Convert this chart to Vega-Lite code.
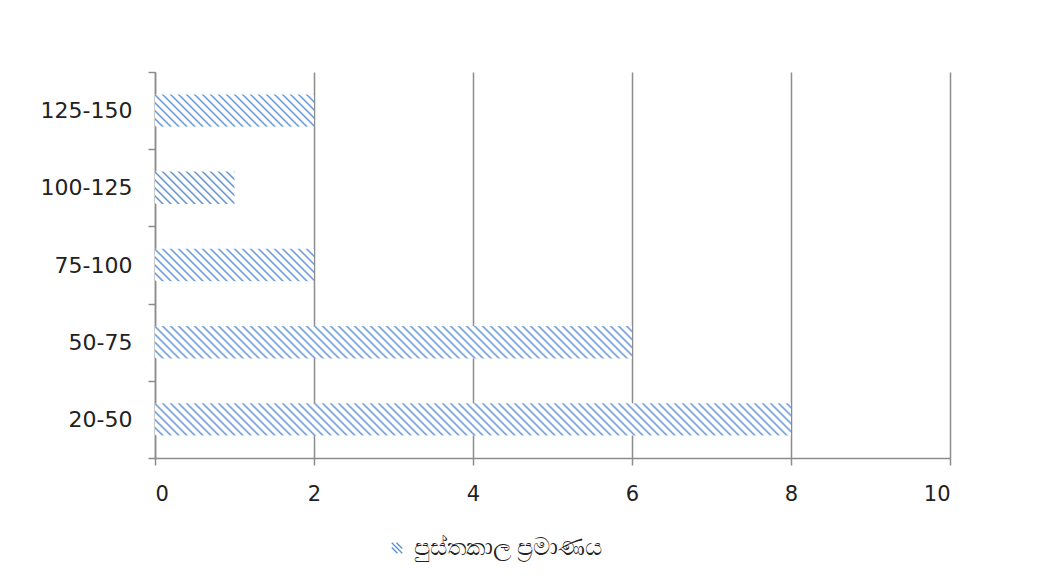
{
  "$schema": "https://vega.github.io/schema/vega-lite/v6.json",
  "width": 795,
  "height": 386,
  "autosize": {"type": "none"},
  "padding": {"left": 155, "top": 72, "right": 91, "bottom": 123},
  "background": "white",
  "config": {"view": {"stroke": null}, "font": "DejaVu Sans"},
  "params": [
    {"name": "stp", "value": [
      {"offset":0,"color":"#5b8fd6"},{"offset":0.0025,"color":"#fff"},
      {"offset":0.0075,"color":"#fff"},{"offset":0.01,"color":"#5b8fd6"},{"offset":0.0125,"color":"#fff"},
      {"offset":0.0175,"color":"#fff"},{"offset":0.02,"color":"#5b8fd6"},{"offset":0.0225,"color":"#fff"},
      {"offset":0.0275,"color":"#fff"},{"offset":0.03,"color":"#5b8fd6"},{"offset":0.0325,"color":"#fff"},
      {"offset":0.0375,"color":"#fff"},{"offset":0.04,"color":"#5b8fd6"},{"offset":0.0425,"color":"#fff"},
      {"offset":0.0475,"color":"#fff"},{"offset":0.05,"color":"#5b8fd6"},{"offset":0.0525,"color":"#fff"},
      {"offset":0.0575,"color":"#fff"},{"offset":0.06,"color":"#5b8fd6"},{"offset":0.0625,"color":"#fff"},
      {"offset":0.0675,"color":"#fff"},{"offset":0.07,"color":"#5b8fd6"},{"offset":0.0725,"color":"#fff"},
      {"offset":0.0775,"color":"#fff"},{"offset":0.08,"color":"#5b8fd6"},{"offset":0.0825,"color":"#fff"},
      {"offset":0.0875,"color":"#fff"},{"offset":0.09,"color":"#5b8fd6"},{"offset":0.0925,"color":"#fff"},
      {"offset":0.0975,"color":"#fff"},{"offset":0.1,"color":"#5b8fd6"},{"offset":0.1025,"color":"#fff"},
      {"offset":0.1075,"color":"#fff"},{"offset":0.11,"color":"#5b8fd6"},{"offset":0.1125,"color":"#fff"},
      {"offset":0.1175,"color":"#fff"},{"offset":0.12,"color":"#5b8fd6"},{"offset":0.1225,"color":"#fff"},
      {"offset":0.1275,"color":"#fff"},{"offset":0.13,"color":"#5b8fd6"},{"offset":0.1325,"color":"#fff"},
      {"offset":0.1375,"color":"#fff"},{"offset":0.14,"color":"#5b8fd6"},{"offset":0.1425,"color":"#fff"},
      {"offset":0.1475,"color":"#fff"},{"offset":0.15,"color":"#5b8fd6"},{"offset":0.1525,"color":"#fff"},
      {"offset":0.1575,"color":"#fff"},{"offset":0.16,"color":"#5b8fd6"},{"offset":0.1625,"color":"#fff"},
      {"offset":0.1675,"color":"#fff"},{"offset":0.17,"color":"#5b8fd6"},{"offset":0.1725,"color":"#fff"},
      {"offset":0.1775,"color":"#fff"},{"offset":0.18,"color":"#5b8fd6"},{"offset":0.1825,"color":"#fff"},
      {"offset":0.1875,"color":"#fff"},{"offset":0.19,"color":"#5b8fd6"},{"offset":0.1925,"color":"#fff"},
      {"offset":0.1975,"color":"#fff"},{"offset":0.2,"color":"#5b8fd6"},{"offset":0.2025,"color":"#fff"},
      {"offset":0.2075,"color":"#fff"},{"offset":0.21,"color":"#5b8fd6"},{"offset":0.2125,"color":"#fff"},
      {"offset":0.2175,"color":"#fff"},{"offset":0.22,"color":"#5b8fd6"},{"offset":0.2225,"color":"#fff"},
      {"offset":0.2275,"color":"#fff"},{"offset":0.23,"color":"#5b8fd6"},{"offset":0.2325,"color":"#fff"},
      {"offset":0.2375,"color":"#fff"},{"offset":0.24,"color":"#5b8fd6"},{"offset":0.2425,"color":"#fff"},
      {"offset":0.2475,"color":"#fff"},{"offset":0.25,"color":"#5b8fd6"},{"offset":0.2525,"color":"#fff"},
      {"offset":0.2575,"color":"#fff"},{"offset":0.26,"color":"#5b8fd6"},{"offset":0.2625,"color":"#fff"},
      {"offset":0.2675,"color":"#fff"},{"offset":0.27,"color":"#5b8fd6"},{"offset":0.2725,"color":"#fff"},
      {"offset":0.2775,"color":"#fff"},{"offset":0.28,"color":"#5b8fd6"},{"offset":0.2825,"color":"#fff"},
      {"offset":0.2875,"color":"#fff"},{"offset":0.29,"color":"#5b8fd6"},{"offset":0.2925,"color":"#fff"},
      {"offset":0.2975,"color":"#fff"},{"offset":0.3,"color":"#5b8fd6"},{"offset":0.3025,"color":"#fff"},
      {"offset":0.3075,"color":"#fff"},{"offset":0.31,"color":"#5b8fd6"},{"offset":0.3125,"color":"#fff"},
      {"offset":0.3175,"color":"#fff"},{"offset":0.32,"color":"#5b8fd6"},{"offset":0.3225,"color":"#fff"},
      {"offset":0.3275,"color":"#fff"},{"offset":0.33,"color":"#5b8fd6"},{"offset":0.3325,"color":"#fff"},
      {"offset":0.3375,"color":"#fff"},{"offset":0.34,"color":"#5b8fd6"},{"offset":0.3425,"color":"#fff"},
      {"offset":0.3475,"color":"#fff"},{"offset":0.35,"color":"#5b8fd6"},{"offset":0.3525,"color":"#fff"},
      {"offset":0.3575,"color":"#fff"},{"offset":0.36,"color":"#5b8fd6"},{"offset":0.3625,"color":"#fff"},
      {"offset":0.3675,"color":"#fff"},{"offset":0.37,"color":"#5b8fd6"},{"offset":0.3725,"color":"#fff"},
      {"offset":0.3775,"color":"#fff"},{"offset":0.38,"color":"#5b8fd6"},{"offset":0.3825,"color":"#fff"},
      {"offset":0.3875,"color":"#fff"},{"offset":0.39,"color":"#5b8fd6"},{"offset":0.3925,"color":"#fff"},
      {"offset":0.3975,"color":"#fff"},{"offset":0.4,"color":"#5b8fd6"},{"offset":0.4025,"color":"#fff"},
      {"offset":0.4075,"color":"#fff"},{"offset":0.41,"color":"#5b8fd6"},{"offset":0.4125,"color":"#fff"},
      {"offset":0.4175,"color":"#fff"},{"offset":0.42,"color":"#5b8fd6"},{"offset":0.4225,"color":"#fff"},
      {"offset":0.4275,"color":"#fff"},{"offset":0.43,"color":"#5b8fd6"},{"offset":0.4325,"color":"#fff"},
      {"offset":0.4375,"color":"#fff"},{"offset":0.44,"color":"#5b8fd6"},{"offset":0.4425,"color":"#fff"},
      {"offset":0.4475,"color":"#fff"},{"offset":0.45,"color":"#5b8fd6"},{"offset":0.4525,"color":"#fff"},
      {"offset":0.4575,"color":"#fff"},{"offset":0.46,"color":"#5b8fd6"},{"offset":0.4625,"color":"#fff"},
      {"offset":0.4675,"color":"#fff"},{"offset":0.47,"color":"#5b8fd6"},{"offset":0.4725,"color":"#fff"},
      {"offset":0.4775,"color":"#fff"},{"offset":0.48,"color":"#5b8fd6"},{"offset":0.4825,"color":"#fff"},
      {"offset":0.4875,"color":"#fff"},{"offset":0.49,"color":"#5b8fd6"},{"offset":0.4925,"color":"#fff"},
      {"offset":0.4975,"color":"#fff"},{"offset":0.5,"color":"#5b8fd6"},{"offset":0.5025,"color":"#fff"},
      {"offset":0.5075,"color":"#fff"},{"offset":0.51,"color":"#5b8fd6"},{"offset":0.5125,"color":"#fff"},
      {"offset":0.5175,"color":"#fff"},{"offset":0.52,"color":"#5b8fd6"},{"offset":0.5225,"color":"#fff"},
      {"offset":0.5275,"color":"#fff"},{"offset":0.53,"color":"#5b8fd6"},{"offset":0.5325,"color":"#fff"},
      {"offset":0.5375,"color":"#fff"},{"offset":0.54,"color":"#5b8fd6"},{"offset":0.5425,"color":"#fff"},
      {"offset":0.5475,"color":"#fff"},{"offset":0.55,"color":"#5b8fd6"},{"offset":0.5525,"color":"#fff"},
      {"offset":0.5575,"color":"#fff"},{"offset":0.56,"color":"#5b8fd6"},{"offset":0.5625,"color":"#fff"},
      {"offset":0.5675,"color":"#fff"},{"offset":0.57,"color":"#5b8fd6"},{"offset":0.5725,"color":"#fff"},
      {"offset":0.5775,"color":"#fff"},{"offset":0.58,"color":"#5b8fd6"},{"offset":0.5825,"color":"#fff"},
      {"offset":0.5875,"color":"#fff"},{"offset":0.59,"color":"#5b8fd6"},{"offset":0.5925,"color":"#fff"},
      {"offset":0.5975,"color":"#fff"},{"offset":0.6,"color":"#5b8fd6"},{"offset":0.6025,"color":"#fff"},
      {"offset":0.6075,"color":"#fff"},{"offset":0.61,"color":"#5b8fd6"},{"offset":0.6125,"color":"#fff"},
      {"offset":0.6175,"color":"#fff"},{"offset":0.62,"color":"#5b8fd6"},{"offset":0.6225,"color":"#fff"},
      {"offset":0.6275,"color":"#fff"},{"offset":0.63,"color":"#5b8fd6"},{"offset":0.6325,"color":"#fff"},
      {"offset":0.6375,"color":"#fff"},{"offset":0.64,"color":"#5b8fd6"},{"offset":0.6425,"color":"#fff"},
      {"offset":0.6475,"color":"#fff"},{"offset":0.65,"color":"#5b8fd6"},{"offset":0.6525,"color":"#fff"},
      {"offset":0.6575,"color":"#fff"},{"offset":0.66,"color":"#5b8fd6"},{"offset":0.6625,"color":"#fff"},
      {"offset":0.6675,"color":"#fff"},{"offset":0.67,"color":"#5b8fd6"},{"offset":0.6725,"color":"#fff"},
      {"offset":0.6775,"color":"#fff"},{"offset":0.68,"color":"#5b8fd6"},{"offset":0.6825,"color":"#fff"},
      {"offset":0.6875,"color":"#fff"},{"offset":0.69,"color":"#5b8fd6"},{"offset":0.6925,"color":"#fff"},
      {"offset":0.6975,"color":"#fff"},{"offset":0.7,"color":"#5b8fd6"},{"offset":0.7025,"color":"#fff"},
      {"offset":0.7075,"color":"#fff"},{"offset":0.71,"color":"#5b8fd6"},{"offset":0.7125,"color":"#fff"},
      {"offset":0.7175,"color":"#fff"},{"offset":0.72,"color":"#5b8fd6"},{"offset":0.7225,"color":"#fff"},
      {"offset":0.7275,"color":"#fff"},{"offset":0.73,"color":"#5b8fd6"},{"offset":0.7325,"color":"#fff"},
      {"offset":0.7375,"color":"#fff"},{"offset":0.74,"color":"#5b8fd6"},{"offset":0.7425,"color":"#fff"},
      {"offset":0.7475,"color":"#fff"},{"offset":0.75,"color":"#5b8fd6"},{"offset":0.7525,"color":"#fff"},
      {"offset":0.7575,"color":"#fff"},{"offset":0.76,"color":"#5b8fd6"},{"offset":0.7625,"color":"#fff"},
      {"offset":0.7675,"color":"#fff"},{"offset":0.77,"color":"#5b8fd6"},{"offset":0.7725,"color":"#fff"},
      {"offset":0.7775,"color":"#fff"},{"offset":0.78,"color":"#5b8fd6"},{"offset":0.7825,"color":"#fff"},
      {"offset":0.7875,"color":"#fff"},{"offset":0.79,"color":"#5b8fd6"},{"offset":0.7925,"color":"#fff"},
      {"offset":0.7975,"color":"#fff"},{"offset":0.8,"color":"#5b8fd6"},{"offset":0.8025,"color":"#fff"},
      {"offset":0.8075,"color":"#fff"},{"offset":0.81,"color":"#5b8fd6"},{"offset":0.8125,"color":"#fff"},
      {"offset":0.8175,"color":"#fff"},{"offset":0.82,"color":"#5b8fd6"},{"offset":0.8225,"color":"#fff"},
      {"offset":0.8275,"color":"#fff"},{"offset":0.83,"color":"#5b8fd6"},{"offset":0.8325,"color":"#fff"}
    ]}
  ],
  "data": {
    "values": [
      {"r": "20-50", "n": 8, "s": "පුස්තකාල ප්\u200dරමාණය"},
      {"r": "50-75", "n": 6, "s": "පුස්තකාල ප්\u200dරමාණය"},
      {"r": "75-100", "n": 2, "s": "පුස්තකාල ප්\u200dරමාණය"},
      {"r": "100-125", "n": 1, "s": "පුස්තකාල ප්\u200dරමාණය"},
      {"r": "125-150", "n": 2, "s": "පුස්තකාල ප්\u200dරමාණය"}
    ]
  },
  "encoding": {
    "y": {
      "field": "r",
      "type": "nominal",
      "sort": ["125-150", "100-125", "75-100", "50-75", "20-50"],
      "scale": {"paddingInner": 0, "paddingOuter": 0},
      "axis": {
        "title": null,
        "domainColor": "#8c8c8c",
        "domainWidth": 1.5,
        "tickColor": "#8c8c8c",
        "tickWidth": 1.5,
        "tickSize": 7,
        "tickBand": "extent",
        "labelFontSize": 22,
        "labelFont": "DejaVu Sans",
        "labelColor": "#222222",
        "labelPadding": 16
      }
    },
    "x": {
      "field": "n",
      "type": "quantitative",
      "scale": {"domain": [0, 10], "nice": false},
      "axis": {
        "title": null,
        "values": [0, 2, 4, 6, 8, 10],
        "grid": true,
        "gridColor": "#8c8c8c",
        "gridWidth": 1.5,
        "domainColor": "#8c8c8c",
        "domainWidth": 1.5,
        "tickColor": "#8c8c8c",
        "tickWidth": 1.5,
        "tickSize": 7,
        "labelFontSize": 21,
        "labelFont": "DejaVu Sans",
        "labelColor": "#222222",
        "labelPadding": 18
      }
    }
  },
  "layer": [
    {
      "mark": {
        "type": "bar",
        "height": {"band": 0.42},
        "fill": {"expr": "{gradient:'linear',x1:0,y1:1,x2:63600*datum.n/(6320.25*datum.n*datum.n+1051),y2:1-25936/(6320.25*datum.n*datum.n+1051),stops:stp}"}
      }
    },
    {
      "mark": {"type": "point", "opacity": 0},
      "encoding": {
        "color": {
          "field": "s",
          "type": "nominal",
          "scale": {"range": ["#5b8fd6"]},
          "legend": {
            "title": null,
            "orient": "none",
            "legendX": 230,
            "legendY": 464,
            "padding": 0,
            "symbolType": "M-1,-1L1,1M-0.1,-1L1,0.1M-1,-0.1L0.1,1",
            "symbolSize": 110,
            "symbolStrokeWidth": 1.3,
            "symbolOpacity": 1,
            "labelFontSize": 24,
            "labelFont": "Noto Sans",
            "labelColor": "#222222",
            "labelOffset": 5,
            "labelLimit": 500
          }
        }
      }
    }
  ]
}
